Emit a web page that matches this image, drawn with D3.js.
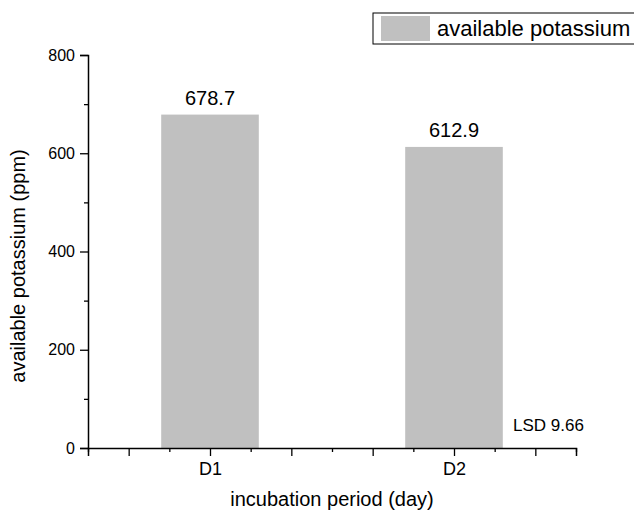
<!DOCTYPE html>
<html>
<head>
<meta charset="utf-8">
<script src="https://cdn.jsdelivr.net/npm/d3@7"></script>
<style>
  body { margin: 0; background: #fff; }
  text { font-family: Arial, 'Liberation Sans', sans-serif; fill: #000; }
</style>
</head>
<body>
<div id="chart"></div>
<script>
const categories = ['D1', 'D2'];
const values = [678.7, 612.9];
const valueLabels = ['678.7', '612.9'];
const yTicks = [0, 200, 400, 600, 800];
const yMinor = [100, 300, 500, 700];
const seriesName = 'available potassium';
const lsdText = 'LSD 9.66';

const width = 634,
  height = 512;
const margin = { top: 55, right: 58, bottom: 64, left: 88 };

const svg = d3
  .select('#chart')
  .append('svg')
  .attr('width', width)
  .attr('height', height);

// x axis runs from 0.5 to 2.5 (category index + 1)
const x = d3
  .scaleLinear()
  .domain([0.5, 2.5])
  .range([margin.left, width - margin.right]);
const y = d3
  .scaleLinear()
  .domain([0, 800])
  .range([height - margin.bottom, margin.top]);

const barW = x(1.4) - x(1);

// bars
svg
  .selectAll('.bar')
  .data(values)
  .join('rect')
  .attr('class', 'bar')
  .attr('x', (d, i) => x(i + 1) - barW / 2)
  .attr('y', (d) => y(d))
  .attr('width', barW)
  .attr('height', (d) => y(0) - y(d))
  .attr('fill', '#c0c0c0');

// value labels
svg
  .selectAll('.vlabel')
  .data(values)
  .join('text')
  .attr('class', 'vlabel')
  .attr('x', (d, i) => x(i + 1))
  .attr('y', (d) => y(d) - 10)
  .attr('text-anchor', 'middle')
  .style('font-size', '20px')
  .text((d, i) => valueLabels[i]);

// y axis
const yAxis = svg
  .append('g')
  .attr('transform', 'translate(' + margin.left + ',0)')
  .call(d3.axisLeft(y).tickValues(yTicks).tickSize(8).tickPadding(5));
yAxis.selectAll('text').style('font-size', '16px');
svg
  .append('g')
  .attr('transform', 'translate(' + margin.left + ',0)')
  .call(d3.axisLeft(y).tickValues(yMinor).tickSize(4).tickFormat(''))
  .select('.domain')
  .remove();

// x axis: major ticks every 1/3, minor every 1/6
const xMajor = d3.range(2, 8).map((k) => k / 3);
const xMinor = d3.range(3, 16, 2).map((k) => k / 6);
const xAxis = svg
  .append('g')
  .attr('transform', 'translate(0,' + y(0) + ')')
  .call(
    d3
      .axisBottom(x)
      .tickValues(xMajor)
      .tickSize(8)
      .tickPadding(6)
      .tickFormat((d) =>
        Math.abs(d - Math.round(d)) < 1e-6 ? categories[Math.round(d) - 1] : ''
      )
  );
xAxis.selectAll('text').style('font-size', '18px');
svg
  .append('g')
  .attr('transform', 'translate(0,' + y(0) + ')')
  .call(d3.axisBottom(x).tickValues(xMinor).tickSize(4).tickFormat(''))
  .select('.domain')
  .remove();

svg.selectAll('.domain').attr('stroke-width', 1.5);
svg.selectAll('.tick line').attr('stroke-width', 1.3);

// axis titles
svg
  .append('text')
  .attr('x', (x(0.5) + x(2.5)) / 2)
  .attr('y', 506)
  .attr('text-anchor', 'middle')
  .style('font-size', '20px')
  .text('incubation period (day)');

svg
  .append('text')
  .attr('transform', 'translate(25,266) rotate(-90)')
  .attr('text-anchor', 'middle')
  .style('font-size', '20px')
  .text('available potassium (ppm)');

// LSD note
svg
  .append('text')
  .attr('x', 513)
  .attr('y', 431)
  .style('font-size', '17px')
  .text(lsdText);

// legend
const legend = svg.append('g').attr('transform', 'translate(373,13)');
legend
  .append('rect')
  .attr('width', 270)
  .attr('height', 31)
  .attr('fill', '#fff')
  .attr('stroke', '#000')
  .attr('stroke-width', 1);
legend
  .append('rect')
  .attr('x', 8)
  .attr('y', 3)
  .attr('width', 49)
  .attr('height', 25)
  .attr('fill', '#c0c0c0');
legend
  .append('text')
  .attr('x', 64)
  .attr('y', 23)
  .style('font-size', '22px')
  .text(seriesName);
</script>
</body>
</html>
